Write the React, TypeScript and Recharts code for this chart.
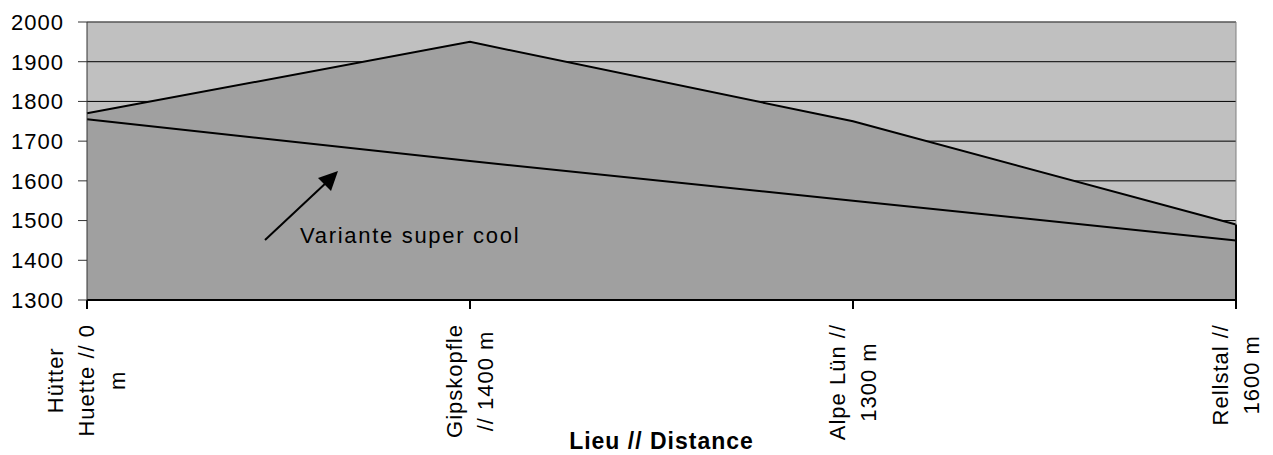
import React from "react";
import { AreaChart, Area, XAxis, YAxis, CartesianGrid, ReferenceLine, Label } from "recharts";

const categories = ["Hütter Huette // 0 m", "Gipskopfle // 1400 m", "Alpe Lün // 1300 m", "Rellstal // 1600 m"];
const tickLines = [["Hütter", "Huette // 0", "m"], ["Gipskopfle", "// 1400 m"], ["Alpe Lün //", "1300 m"], ["Rellstal //", "1600 m"]];
const routeMain = [1770, 1950, 1750, 1490];
const routeCool = [1755, 1650, 1550, 1450];
const yTicks = [1300, 1400, 1500, 1600, 1700, 1800, 1900, 2000];

const data = categories.map((name, i) => ({ name, main: routeMain[i], cool: routeCool[i] }));

const FONT = '"Liberation Sans", Arial, sans-serif';

let ctx: CanvasRenderingContext2D | null = null;
const measure = (s: string) => {
  if (!ctx) ctx = document.createElement("canvas").getContext("2d");
  if (!ctx) return s.length * 12;
  ctx.font = `22px "Liberation Sans"`;
  return ctx.measureText(s).width + s.length * 1;
};

// eslint-disable-next-line @typescript-eslint/no-explicit-any
const XTick = (props: any) => {
  const { x, y, payload } = props;
  const lines = tickLines[payload.index] || [String(payload.value)];
  const longest = Math.max(...lines.map(measure));
  const cy = y + 13 + longest / 2;
  const gap = 31;
  return (
    <g>
      {lines.map((l, i) => {
        const lx = x + (i - (lines.length - 1) / 2) * gap;
        return (
          <text
            key={i}
            x={lx}
            y={cy}
            transform={`rotate(-90 ${lx} ${cy})`}
            textAnchor="middle"
            dominantBaseline="central"
            fontSize={22}
            letterSpacing={1}
            fontFamily={FONT}
            fill="#000"
          >
            {l}
          </text>
        );
      })}
    </g>
  );
};

export default function App() {
  const last = data.length - 1;
  return (
    <div style={{ position: "absolute", left: 0, top: 0, width: 1273, height: 455, background: "#fff", fontFamily: FONT }}>
      <AreaChart width={1273} height={455} data={data} margin={{ top: 22, right: 37, left: 0, bottom: 0 }}>
        <CartesianGrid vertical={false} stroke="#000" fill="#c0c0c0" fillOpacity={1} />
        <XAxis
          dataKey="name"
          height={155}
          stroke="#000"
          strokeWidth={2}
          tickSize={9}
          tick={<XTick />}
          interval={0}
        >
          <Label
            value="Lieu // Distance"
            position="insideBottom"
            offset={6}
            style={{ fontSize: 23, fontWeight: "bold", fill: "#000", fontFamily: FONT, letterSpacing: 1 }}
          />
        </XAxis>
        <YAxis
          width={87}
          domain={[1300, 2000]}
          ticks={yTicks}
          interval={0}
          stroke="#333"
          tickSize={9}
          tickMargin={14}
          tick={{ fontSize: 22, fill: "#000", fontFamily: FONT, letterSpacing: 1 }}
        />
        <Area
          type="linear"
          dataKey="main"
          stroke="#000"
          strokeWidth={2}
          fill="#a0a0a0"
          fillOpacity={1}
          isAnimationActive={false}
          dot={false}
          activeDot={false}
        />
        <Area
          type="linear"
          dataKey="cool"
          stroke="#000"
          strokeWidth={2}
          fill="#a0a0a0"
          fillOpacity={1}
          isAnimationActive={false}
          dot={false}
          activeDot={false}
        />
        <ReferenceLine y={2000} stroke="#808080" />
        <ReferenceLine x={categories[last]} stroke="#808080" />
        <ReferenceLine
          segment={[
            { x: categories[last], y: 1300 },
            { x: categories[last], y: routeMain[last] },
          ]}
          stroke="#000"
          strokeWidth={2}
        />
      </AreaChart>
      <svg width={1273} height={455} style={{ position: "absolute", left: 0, top: 0, pointerEvents: "none" }}>
        <line x1={265} y1={240} x2={328} y2={181} stroke="#000" strokeWidth={2} />
        <polygon points="338,171 318,178 331,191" fill="#000" />
        <text x={300} y={243} fontSize={22} letterSpacing={1.7} fontFamily={FONT} fill="#000">
          Variante super cool
        </text>
      </svg>
    </div>
  );
}
